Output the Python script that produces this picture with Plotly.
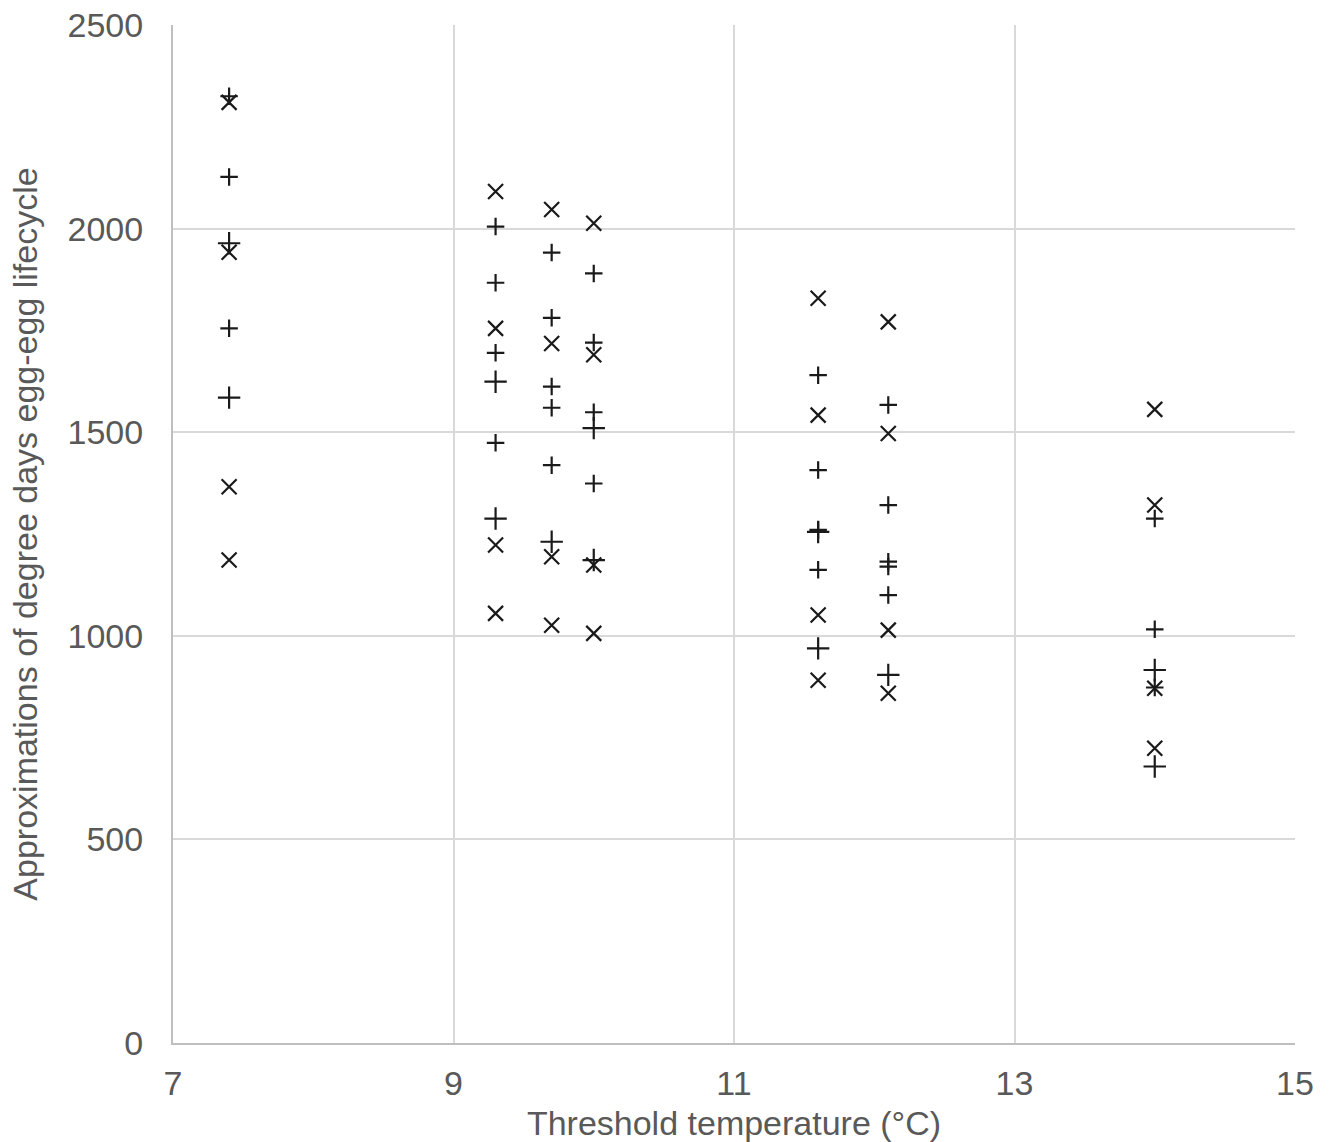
import plotly.graph_objects as go

# Series: "x" markers
x_cross_t = [7.4, 7.4, 7.4, 7.4,
             9.3, 9.3, 9.3, 9.3,
             9.7, 9.7, 9.7, 9.7,
             10.0, 10.0, 10.0, 10.0,
             11.6, 11.6, 11.6, 11.6,
             12.1, 12.1, 12.1, 12.1,
             14.0, 14.0, 14.0, 14.0]
x_cross_v = [2310, 1942, 1366, 1186,
             2091, 1755, 1223, 1055,
             2047, 1718, 1194, 1026,
             2013, 1690, 1174, 1006,
             1829, 1542, 1051, 891,
             1771, 1497, 1014, 859,
             1556, 1321, 871, 724]

# Series: small "+" markers
plus_t = [7.4, 7.4, 7.4,
          9.3, 9.3, 9.3, 9.3,
          9.7, 9.7, 9.7, 9.7, 9.7,
          10.0, 10.0, 10.0, 10.0,
          11.6, 11.6, 11.6, 11.6,
          12.1, 12.1, 12.1, 12.1, 12.1,
          14.0, 14.0, 14.0]
plus_v = [2325, 2127, 1755,
          2005, 1867, 1695, 1474,
          1941, 1781, 1612, 1560, 1419,
          1890, 1720, 1549, 1374,
          1640, 1407, 1260, 1162,
          1567, 1321, 1182, 1170, 1100,
          1288, 1016, 873]

# Series: large "+" markers
bigplus_t = [7.4, 7.4, 9.3, 9.3, 9.7, 10.0, 10.0, 11.6, 11.6, 12.1, 14.0, 14.0]
bigplus_v = [1964, 1585, 1624, 1288, 1231, 1510, 1186, 1255, 969, 904, 916, 679]

mark_color = "#1a1a1a"

fig = go.Figure()
fig.add_trace(go.Scatter(
    x=x_cross_t, y=x_cross_v, mode="markers", name="x",
    marker=dict(symbol="x-thin", size=15, color=mark_color,
                line=dict(width=2.2, color=mark_color)),
))
fig.add_trace(go.Scatter(
    x=plus_t, y=plus_v, mode="markers", name="+",
    marker=dict(symbol="cross-thin", size=12.5, color=mark_color,
                line=dict(width=2.2, color=mark_color)),
))
fig.add_trace(go.Scatter(
    x=bigplus_t, y=bigplus_v, mode="markers", name="+ (large)",
    marker=dict(symbol="cross-thin", size=16, color=mark_color,
                line=dict(width=2.2, color=mark_color)),
))

font_family = "Liberation Sans, Arial, sans-serif"
tick_color = "#595959"

fig.update_layout(
    width=1333, height=1142,
    margin=dict(l=173, r=38, t=25, b=99, autoexpand=False),
    paper_bgcolor="white", plot_bgcolor="white",
    showlegend=False,
    font=dict(family=font_family, color=tick_color),
)
fig.update_xaxes(
    range=[7, 15], tickvals=[7, 9, 11, 13, 15], ticktext=["7", "9", "11", "13", "15"],
    showgrid=True, gridcolor="#d9d9d9", gridwidth=2,
    showline=True, linecolor="#bfbfbf", linewidth=2,
    zeroline=False, ticks="", ticklabelstandoff=9,
    tickfont=dict(size=34, color=tick_color, family=font_family),
    title=dict(text="Threshold temperature (°C)", standoff=19,
               font=dict(size=34, color=tick_color, family=font_family)),
    automargin=False,
)
fig.update_yaxes(
    range=[0, 2500], tickvals=[0, 500, 1000, 1500, 2000, 2500],
    showgrid=True, gridcolor="#d9d9d9", gridwidth=2,
    showline=True, linecolor="#bfbfbf", linewidth=2,
    zeroline=False, ticks="", ticklabelstandoff=21,
    tickfont=dict(size=34, color=tick_color, family=font_family),
    title=dict(text="Approximations of degree days egg-egg lifecycle", standoff=20,
               font=dict(size=34, color=tick_color, family=font_family)),
    automargin=False,
)

fig.write_html(
    "out.html",
    config={"displayModeBar": False},
    post_script="document.body.style.margin='0';document.body.style.overflow='hidden';",
)
